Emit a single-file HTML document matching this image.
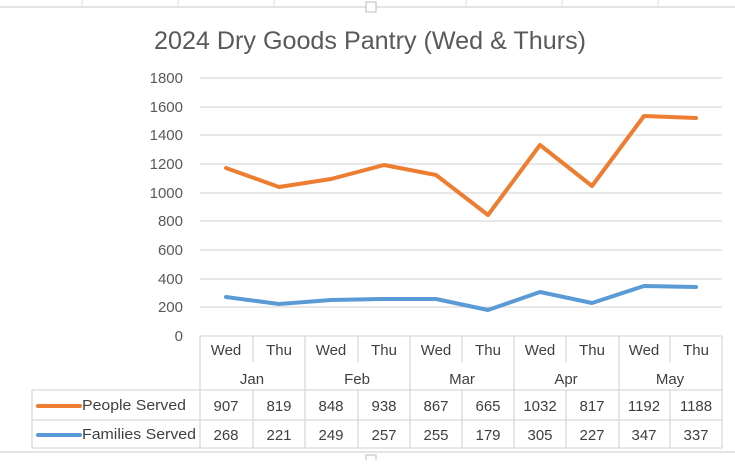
<!DOCTYPE html>
<html><head><style>
body{margin:0;width:735px;height:460px;background:#fff;overflow:hidden;font-family:"Liberation Sans",sans-serif}
</style></head><body>
<svg width="735" height="460" xmlns="http://www.w3.org/2000/svg" font-family="Liberation Sans, sans-serif">
<line x1="0" y1="7" x2="735" y2="7" stroke="#c8c8c8"/>
<g stroke="#d8d8d8"><line x1="82" y1="0" x2="82" y2="7"/><line x1="178" y1="0" x2="178" y2="7"/><line x1="274" y1="0" x2="274" y2="7"/><line x1="466" y1="0" x2="466" y2="7"/><line x1="562" y1="0" x2="562" y2="7"/><line x1="658" y1="0" x2="658" y2="7"/></g>
<rect x="366" y="2" width="10" height="10" fill="#fff" stroke="#bbb"/>
<line x1="0" y1="452" x2="735" y2="452" stroke="#c8c8c8"/>
<rect x="366" y="455" width="10" height="8" fill="#fff" stroke="#bbb"/>
<text x="370" y="49" font-size="25" fill="#595959" text-anchor="middle" textLength="432" lengthAdjust="spacingAndGlyphs">2024 Dry Goods Pantry (Wed &amp; Thurs)</text>
<g stroke="#d9d9d9" stroke-width="1.3">
<line x1="200" y1="78" x2="722" y2="78"/><line x1="200" y1="107" x2="722" y2="107"/><line x1="200" y1="135" x2="722" y2="135"/><line x1="200" y1="164" x2="722" y2="164"/><line x1="200" y1="193" x2="722" y2="193"/><line x1="200" y1="221" x2="722" y2="221"/><line x1="200" y1="250" x2="722" y2="250"/><line x1="200" y1="279" x2="722" y2="279"/><line x1="200" y1="307" x2="722" y2="307"/>
</g>
<g font-size="15" fill="#595959" text-anchor="end">
<text x="183" y="83">1800</text><text x="183" y="112">1600</text><text x="183" y="140">1400</text><text x="183" y="169">1200</text><text x="183" y="198">1000</text><text x="183" y="226">800</text><text x="183" y="255">600</text><text x="183" y="284">400</text><text x="183" y="312">200</text><text x="183" y="341">0</text>
</g>
<g stroke="#d9d9d9" stroke-width="1.3" fill="none">
<line x1="200" y1="336" x2="722" y2="336"/>
<line x1="32" y1="390" x2="722" y2="390"/>
<line x1="32" y1="420" x2="722" y2="420"/>
<line x1="32" y1="448" x2="722" y2="448"/>
<line x1="32" y1="390" x2="32" y2="448"/>
<line x1="200" y1="336" x2="200" y2="448"/>
<line x1="305" y1="336" x2="305" y2="448"/>
<line x1="410" y1="336" x2="410" y2="448"/>
<line x1="514" y1="336" x2="514" y2="448"/>
<line x1="619" y1="336" x2="619" y2="448"/>
<line x1="722" y1="336" x2="722" y2="448"/>
<line x1="253" y1="336" x2="253" y2="362"/><line x1="253" y1="390" x2="253" y2="448"/>
<line x1="358" y1="336" x2="358" y2="362"/><line x1="358" y1="390" x2="358" y2="448"/>
<line x1="462" y1="336" x2="462" y2="362"/><line x1="462" y1="390" x2="462" y2="448"/>
<line x1="566" y1="336" x2="566" y2="362"/><line x1="566" y1="390" x2="566" y2="448"/>
<line x1="670" y1="336" x2="670" y2="362"/><line x1="670" y1="390" x2="670" y2="448"/>
</g>
<g font-size="15" fill="#404040" text-anchor="middle">
<text x="226" y="355">Wed</text><text x="279" y="355">Thu</text><text x="331" y="355">Wed</text><text x="384" y="355">Thu</text><text x="436" y="355">Wed</text><text x="488" y="355">Thu</text><text x="540" y="355">Wed</text><text x="592" y="355">Thu</text><text x="644" y="355">Wed</text><text x="696" y="355">Thu</text>
<text x="252" y="384">Jan</text><text x="357" y="384">Feb</text><text x="462" y="384">Mar</text><text x="566" y="384">Apr</text><text x="670" y="384">May</text>
<text x="226" y="411">907</text><text x="279" y="411">819</text><text x="331" y="411">848</text><text x="384" y="411">938</text><text x="436" y="411">867</text><text x="488" y="411">665</text><text x="540" y="411">1032</text><text x="592" y="411">817</text><text x="644" y="411">1192</text><text x="696" y="411">1188</text>
<text x="226" y="440">268</text><text x="279" y="440">221</text><text x="331" y="440">249</text><text x="384" y="440">257</text><text x="436" y="440">255</text><text x="488" y="440">179</text><text x="540" y="440">305</text><text x="592" y="440">227</text><text x="644" y="440">347</text><text x="696" y="440">337</text>
</g>
<line x1="38" y1="406" x2="80" y2="406" stroke="#ed7d31" stroke-width="4" stroke-linecap="round"/>
<line x1="38" y1="435" x2="80" y2="435" stroke="#5b9bd5" stroke-width="4" stroke-linecap="round"/>
<text x="82" y="410" font-size="15" fill="#404040" textLength="104" lengthAdjust="spacingAndGlyphs">People Served</text>
<text x="82" y="439" font-size="15" fill="#404040" textLength="114" lengthAdjust="spacingAndGlyphs">Families Served</text>
<polyline fill="none" stroke="#ed7d31" stroke-width="4" stroke-linejoin="round" stroke-linecap="round" points="226,168 279,187 331,179 384,165 436,175 488,215 540,145 592,186 644,116 696,118"/>
<polyline fill="none" stroke="#5b9bd5" stroke-width="4" stroke-linejoin="round" stroke-linecap="round" points="226,297 279,304 331,300 384,299 436,299 488,310 540,292 592,303 644,286 696,287"/>
</svg>
</body></html>
